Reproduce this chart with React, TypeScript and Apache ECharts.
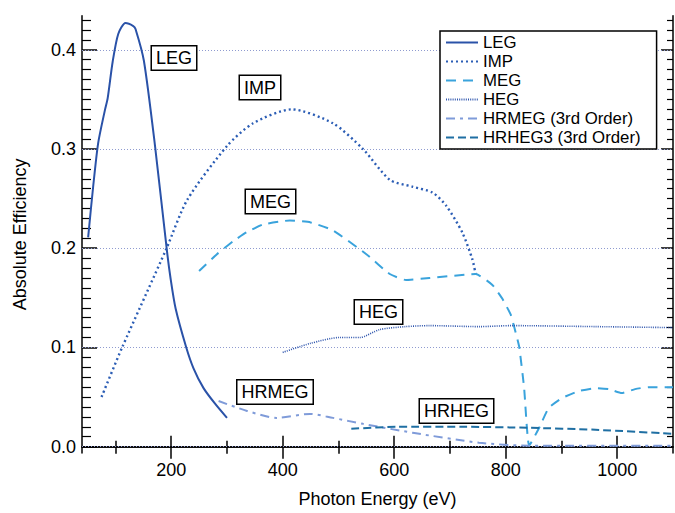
import React, { useEffect, useRef } from "react";
import * as echarts from "echarts";

// ---- data (photon energy eV, absolute efficiency) ----
const legE = [51, 60, 69, 81, 86, 95, 105, 118, 132, 136, 151, 171, 192, 199, 208, 227, 240, 258, 279, 300];
const legV = [0.211, 0.262, 0.306, 0.339, 0.351, 0.388, 0.416, 0.427, 0.424, 0.421, 0.389, 0.303, 0.199, 0.169, 0.139, 0.1, 0.079, 0.059, 0.043, 0.029];

const impE = [75, 112, 191, 229, 300, 347, 416, 490, 544, 592, 633, 669, 693, 722, 740, 746];
const impV = [0.05, 0.1, 0.199, 0.249, 0.303, 0.326, 0.34, 0.326, 0.3, 0.269, 0.262, 0.256, 0.243, 0.216, 0.189, 0.174];

const megE = [250, 282, 311, 335, 365, 413, 450, 490, 550, 592, 621, 663, 746, 776, 794, 809, 815, 824, 833, 842, 860, 877, 901, 931, 961, 985, 1008, 1032, 1056, 1100];
const megV = [0.177, 0.194, 0.207, 0.216, 0.224, 0.228, 0.226, 0.218, 0.194, 0.174, 0.168, 0.17, 0.174, 0.163, 0.149, 0.133, 0.121, 0.101, 0.059, 0.001, 0.019, 0.039, 0.049, 0.056, 0.059, 0.058, 0.054, 0.058, 0.06, 0.06];

const hegE = [400, 449, 502, 538, 574, 620, 663, 752, 811, 961, 1100];
const hegV = [0.095, 0.104, 0.11, 0.11, 0.118, 0.121, 0.122, 0.121, 0.122, 0.121, 0.12];

const hrmegE = [285, 336, 389, 449, 490, 544, 633, 752, 842, 1100];
const hrmegV = [0.046, 0.036, 0.029, 0.033, 0.029, 0.023, 0.014, 0.004, 0.001, 0.001];

const hrhegE = [523, 604, 722, 842, 961, 1100];
const hrhegV = [0.018, 0.02, 0.02, 0.019, 0.017, 0.013];

const xMajor = [200, 400, 600, 800, 1000];
const xMinor = [100, 300, 500, 700, 900];
const yMajor = [0, 0.1, 0.2, 0.3, 0.4];
const yMinor: number[] = [];
for (let i = 0; i <= 43; i++) {
  if (i % 10 !== 0) yMinor.push(i / 100);
}

const annotations = [
  { text: "LEG", x: 174, y: 58 },
  { text: "IMP", x: 260, y: 87.5 },
  { text: "MEG", x: 270.5, y: 201.5 },
  { text: "HEG", x: 378.5, y: 312 },
  { text: "HRMEG", x: 275, y: 392 },
  { text: "HRHEG", x: 456.5, y: 411 },
];

const FONT = "Liberation Sans";
const X_MIN = 40;
const X_MAX = 1100;
const Y_MIN = -0.0064;
const Y_MAX = 0.4344;

const zip = (a: number[], b: number[]) => a.map((v, i) => [v, b[i]]);

export default function App() {
  const ref = useRef<HTMLDivElement>(null);
  useEffect(() => {
    document.body.style.margin = "0";
    if (!ref.current) return;
    const chart = echarts.init(ref.current, undefined, { renderer: "svg" });

    const axisLine = { show: true, lineStyle: { color: "#000", width: 1.5 } };
    const xBase = { type: "value", min: X_MIN, max: X_MAX, splitLine: { show: false } };
    const yBase = { type: "value", min: Y_MIN, max: Y_MAX, splitLine: { show: false } };

    const mk = (name: string, e: number[], v: number[], color: string, width: number, type: any, extra: any = {}) => ({
      name,
      type: "line",
      data: zip(e, v),
      symbol: "none",
      smooth: 0.25,
      lineStyle: { color, width, type },
      itemStyle: { color },
      z: 3,
      ...extra,
    });

    chart.setOption({
      animation: false,
      textStyle: { fontFamily: FONT },
      grid: { left: 82, right: 2, top: 15.7, bottom: 57.3 },
      legend: {
        orient: "vertical",
        left: 440,
        top: 31,
        padding: [2, 16, 2, 5],
        borderColor: "#000",
        borderWidth: 1.5,
        backgroundColor: "#fff",
        itemWidth: 32,
        itemHeight: 12,
        itemGap: 0,
        selectedMode: false,
        itemStyle: { opacity: 0 },
        textStyle: { fontSize: 16.8, color: "#000", fontFamily: FONT, lineHeight: 19 },
        data: ["LEG", "IMP", "MEG", "HEG", "HRMEG (3rd Order)", "HRHEG3 (3rd Order)"],
      },
      xAxis: [
        {
          ...xBase,
          position: "bottom",
          axisLine,
          axisTick: { show: true, inside: true, length: 11, lineStyle: { color: "#000", width: 1.5 }, customValues: xMajor },
          axisLabel: {
            customValues: xMajor,
            fontSize: 18,
            color: "#000",
            margin: 8,
            fontFamily: FONT,
            formatter: (v: number) => String(v),
          },
          name: "Photon Energy (eV)",
          nameLocation: "middle",
          nameGap: 37,
          nameTextStyle: { fontSize: 18, color: "#000", fontFamily: FONT },
        },
        {
          ...xBase,
          position: "bottom",
          axisLine: { show: false },
          axisTick: { show: true, inside: true, length: 6, lineStyle: { color: "#000", width: 1.5 }, customValues: xMinor },
          axisLabel: { show: false },
        },
        {
          ...xBase,
          position: "top",
          axisLine,
          axisTick: { show: true, inside: true, length: 12, lineStyle: { color: "#000", width: 1.5 }, customValues: xMajor },
          axisLabel: { show: false },
        },
        {
          ...xBase,
          position: "top",
          axisLine: { show: false },
          axisTick: { show: true, inside: true, length: 7, lineStyle: { color: "#000", width: 1.5 }, customValues: xMinor },
          axisLabel: { show: false },
        },
      ],
      yAxis: [
        {
          ...yBase,
          position: "left",
          axisLine,
          axisTick: { show: true, inside: true, length: 15, lineStyle: { color: "#000", width: 1.5 }, customValues: yMajor },
          axisLabel: {
            customValues: yMajor,
            fontSize: 18,
            color: "#000",
            margin: 6,
            fontFamily: FONT,
            formatter: (v: number) => v.toFixed(1),
          },
          name: "Absolute Efficiency",
          nameLocation: "middle",
          nameGap: 53,
          nameTextStyle: { fontSize: 18, color: "#000", fontFamily: FONT },
        },
        {
          ...yBase,
          position: "left",
          axisLine: { show: false },
          axisTick: { show: true, inside: true, length: 9, lineStyle: { color: "#000", width: 1.2 }, customValues: yMinor },
          axisLabel: { show: false },
        },
        {
          ...yBase,
          position: "right",
          axisLine,
          axisTick: { show: true, inside: true, length: 12, lineStyle: { color: "#000", width: 1.5 }, customValues: yMajor },
          axisLabel: { show: false },
        },
        {
          ...yBase,
          position: "right",
          axisLine: { show: false },
          axisTick: { show: true, inside: true, length: 6, lineStyle: { color: "#000", width: 1.2 }, customValues: yMinor },
          axisLabel: { show: false },
        },
      ],
      series: [
        mk("LEG", legE, legV, "#2a52a8", 2, "solid", {
          markLine: {
            silent: true,
            symbol: ["none", "none"],
            label: { show: false },
            lineStyle: { color: "#8f9bd0", width: 1, type: [1, 2] },
            data: yMajor.map((v) => ({ yAxis: v })),
            z: 1,
          },
        }),
        mk("IMP", impE, impV, "#2b5db5", 2.4, [2, 3]),
        mk("MEG", megE, megV, "#3aa3dc", 2, [10, 7], { smooth: 0.15 }),
        mk("HEG", hegE, hegV, "#2e55ad", 1.6, [1, 1.2]),
        mk("HRMEG (3rd Order)", hrmegE, hrmegV, "#7f9bd9", 2, [9, 5, 3, 5]),
        mk("HRHEG3 (3rd Order)", hrhegE, hrhegV, "#1f6fa3", 2, [8, 4]),
      ],
      graphic: annotations.map((a) => ({
        type: "text",
        x: a.x,
        y: a.y,
        z: 100,
        style: {
          text: a.text,
          font: `18px "${FONT}"`,
          fill: "#000",
          align: "center",
          verticalAlign: "middle",
          backgroundColor: "#fff",
          borderColor: "#000",
          borderWidth: 1.5,
          padding: [3, 4, 2, 4],
        },
      })),
    });
    return () => chart.dispose();
  }, []);
  return <div ref={ref} style={{ width: 675, height: 513 }} />;
}
